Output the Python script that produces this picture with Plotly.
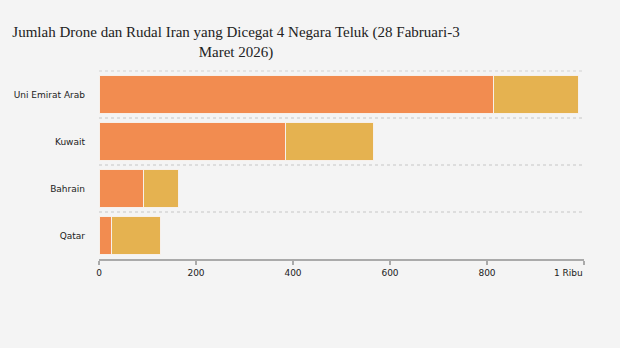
import plotly.graph_objects as go

countries = ["Uni Emirat Arab", "Kuwait", "Bahrain", "Qatar"]
drone = [814, 385, 91, 25]
rudal = [174, 180, 72, 101]
x_tickvals = [0, 200, 400, 600, 800, 1000]
x_ticktext = ["0", "200", "400", "600", "800", "1 Ribu" + "\u00a0" * 11]

fig = go.Figure()
fig.add_trace(go.Bar(y=countries, x=drone, orientation="h", name="Drone",
                     marker=dict(color="#F28C50", line=dict(color="#F7F0EA", width=1))))
fig.add_trace(go.Bar(y=countries, x=rudal, orientation="h", name="Rudal",
                     marker=dict(color="#E5B250", line=dict(color="#F7F0EA", width=1))))

fig.update_layout(
    barmode="stack",
    bargap=0.2,
    width=620, height=348,
    paper_bgcolor="#F4F4F4", plot_bgcolor="#F4F4F4",
    margin=dict(l=99, r=36, t=71, b=89, autoexpand=False),
    showlegend=False,
    title=dict(text="Jumlah Drone dan Rudal Iran yang Dicegat 4 Negara Teluk (28 Fabruari-3<br>Maret 2026)",
               x=236/620, xanchor="center", xref="container",
               y=1 - 37/348, yanchor="top", yref="container",
               font=dict(family="Liberation Serif", size=15, color="#222")),
    font=dict(family="DejaVu Sans", size=10, color="#333"),
    shapes=[dict(type="line", xref="paper", yref="paper", x0=0, x1=1, y0=1, y1=1,
                 line=dict(color="#DDDDDD", width=1.5, dash="dot"), layer="below")],
)
fig.update_xaxes(range=[0, 1000], tickvals=x_tickvals, ticktext=x_ticktext,
                 showgrid=False, zeroline=False, automargin=False,
                 showline=True, linecolor="#AAAAAA", linewidth=1.5,
                 ticks="outside", ticklen=4, tickcolor="#AAAAAA", tickwidth=1.5,
                 tickfont=dict(family="DejaVu Sans", size=9, color="#222"))
fig.update_yaxes(range=[3.5, -0.5], tickson="boundaries", ticks="",
                 showgrid=True, gridcolor="#DDDDDD", griddash="dot", gridwidth=1.5,
                 showline=False, zeroline=False, ticklabelstandoff=13, automargin=False,
                 tickfont=dict(family="DejaVu Sans", size=9, color="#222"))

fig.write_html("out.html")
